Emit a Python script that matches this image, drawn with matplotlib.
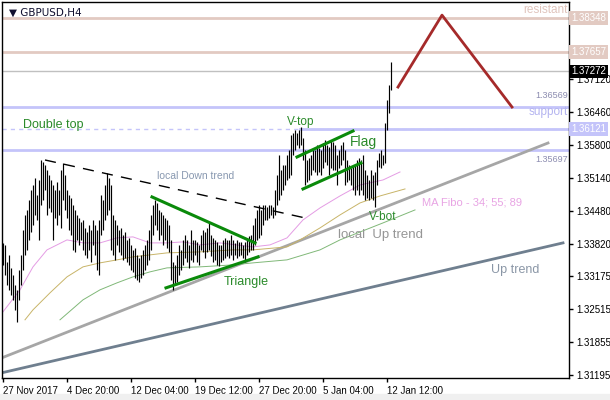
import matplotlib
matplotlib.use('Agg')
import matplotlib.pyplot as plt
from matplotlib.patches import Rectangle

# H4 bars, high / low (price)
highs = [1.3384, 1.3380, 1.3346, 1.3360, 1.3334, 1.3320, 1.3300, 1.3290, 1.3330, 1.3360,
         1.3410, 1.3440, 1.3450, 1.3470, 1.3490, 1.3500, 1.3514, 1.3480, 1.3510, 1.3550,
         1.3546, 1.3540, 1.3530, 1.3520, 1.3510, 1.3500, 1.3490, 1.3506, 1.3490, 1.3530,
         1.3544, 1.3520, 1.3490, 1.3480, 1.3474, 1.3460, 1.3450, 1.3440, 1.3434, 1.3426,
         1.3430, 1.3414, 1.3406, 1.3420, 1.3410, 1.3430, 1.3420, 1.3410, 1.3430, 1.3480,
         1.3470, 1.3500, 1.3524, 1.3514, 1.3500, 1.3440, 1.3430, 1.3420, 1.3410, 1.3414,
         1.3400, 1.3406, 1.3390, 1.3394, 1.3380, 1.3370, 1.3374, 1.3360, 1.3354, 1.3360,
         1.3370, 1.3380, 1.3390, 1.3410, 1.3440, 1.3460, 1.3470, 1.3464, 1.3450, 1.3446,
         1.3440, 1.3434, 1.3430, 1.3420, 1.3390, 1.3346, 1.3340, 1.3360, 1.3380, 1.3370,
         1.3390, 1.3400, 1.3390, 1.3380, 1.3410, 1.3390, 1.3390, 1.3386, 1.3380, 1.3400,
         1.3410, 1.3406, 1.3414, 1.3424, 1.3400, 1.3394, 1.3390, 1.3386, 1.3380, 1.3380,
         1.3390, 1.3394, 1.3390, 1.3390, 1.3400, 1.3390, 1.3384, 1.3390, 1.3386, 1.3386,
         1.3380, 1.3386, 1.3394, 1.3398, 1.3400, 1.3420, 1.3434, 1.3450, 1.3460, 1.3450,
         1.3460, 1.3460, 1.3456, 1.3460, 1.3460, 1.3456, 1.3490, 1.3520, 1.3560, 1.3530,
         1.3540, 1.3540, 1.3560, 1.3570, 1.3600, 1.3604, 1.3610, 1.3604, 1.3610, 1.3616,
         1.3594, 1.3570, 1.3550, 1.3554, 1.3560, 1.3570, 1.3570, 1.3580, 1.3574, 1.3570,
         1.3584, 1.3590, 1.3580, 1.3576, 1.3590, 1.3586, 1.3580, 1.3560, 1.3570, 1.3580,
         1.3586, 1.3570, 1.3550, 1.3540, 1.3534, 1.3540, 1.3540, 1.3550, 1.3554, 1.3550,
         1.3560, 1.3530, 1.3520, 1.3510, 1.3530, 1.3520, 1.3526, 1.3550, 1.3564, 1.3570,
         1.3560, 1.3624, 1.3670, 1.3700, 1.3746]
lows = [1.3340, 1.3320, 1.3300, 1.3290, 1.3280, 1.3270, 1.3250, 1.3226, 1.3270, 1.3300,
        1.3330, 1.3360, 1.3370, 1.3390, 1.3406, 1.3420, 1.3440, 1.3430, 1.3390, 1.3460,
        1.3470, 1.3490, 1.3440, 1.3454, 1.3446, 1.3390, 1.3434, 1.3420, 1.3440, 1.3414,
        1.3470, 1.3450, 1.3434, 1.3410, 1.3400, 1.3370, 1.3366, 1.3390, 1.3380, 1.3390,
        1.3370, 1.3360, 1.3354, 1.3370, 1.3346, 1.3380, 1.3360, 1.3330, 1.3320, 1.3400,
        1.3410, 1.3430, 1.3440, 1.3450, 1.3370, 1.3360, 1.3350, 1.3380, 1.3366, 1.3360,
        1.3350, 1.3354, 1.3346, 1.3340, 1.3330, 1.3326, 1.3314, 1.3310, 1.3306, 1.3314,
        1.3320, 1.3330, 1.3340, 1.3350, 1.3370, 1.3400, 1.3420, 1.3410, 1.3390, 1.3400,
        1.3380, 1.3390, 1.3374, 1.3366, 1.3310, 1.3290, 1.3300, 1.3306, 1.3320, 1.3330,
        1.3340, 1.3354, 1.3346, 1.3334, 1.3350, 1.3346, 1.3360, 1.3346, 1.3340, 1.3370,
        1.3366, 1.3354, 1.3366, 1.3370, 1.3358, 1.3346, 1.3350, 1.3340, 1.3338, 1.3346,
        1.3350, 1.3354, 1.3358, 1.3354, 1.3360, 1.3350, 1.3360, 1.3354, 1.3358, 1.3360,
        1.3354, 1.3346, 1.3360, 1.3366, 1.3370, 1.3370, 1.3380, 1.3390, 1.3394, 1.3400,
        1.3420, 1.3430, 1.3430, 1.3434, 1.3440, 1.3434, 1.3440, 1.3460, 1.3470, 1.3480,
        1.3490, 1.3500, 1.3510, 1.3514, 1.3520, 1.3560, 1.3570, 1.3580, 1.3574, 1.3580,
        1.3550, 1.3500, 1.3506, 1.3510, 1.3520, 1.3530, 1.3526, 1.3520, 1.3526, 1.3520,
        1.3534, 1.3546, 1.3540, 1.3520, 1.3534, 1.3530, 1.3530, 1.3500, 1.3534, 1.3540,
        1.3550, 1.3500, 1.3506, 1.3510, 1.3500, 1.3490, 1.3480, 1.3490, 1.3480, 1.3490,
        1.3480, 1.3470, 1.3474, 1.3470, 1.3474, 1.3470, 1.3456, 1.3500, 1.3536, 1.3534,
        1.3540, 1.3544, 1.3610, 1.3644, 1.3690]

date_labels = ['27 Nov 2017', '4 Dec 20:00', '12 Dec 04:00', '19 Dec 12:00',
               '27 Dec 20:00', '5 Jan 04:00', '12 Jan 12:00']
date_bars = [0, 32, 64, 96, 128, 160, 192]

price_ticks = [1.31195, 1.31855, 1.32515, 1.33175, 1.33820, 1.34480,
               1.35140, 1.35800, 1.36460, 1.37120, 1.37765, 1.38425]
# the two top scale labels sit under the level boxes
hidden_ticks = [1.37765, 1.38425]

# moving averages 34 / 55 / 89 (bar index, price)
ma34_x = [0, 8.5, 15, 22, 32, 40, 48.5, 57, 65, 73.5, 82, 90, 98.5, 108.5, 125, 133.5,
          142, 150, 158.5, 168.5, 178.5, 190, 198.5]
ma34_y = [1.3246, 1.3290, 1.3336, 1.3370, 1.3390, 1.3384, 1.3384, 1.3394, 1.3396, 1.3384,
          1.3384, 1.3386, 1.3380, 1.3384, 1.3376, 1.3380, 1.3394, 1.3430, 1.3454, 1.3478,
          1.3500, 1.3510, 1.3526]
ma55_x = [11, 15, 23.5, 32, 40, 48.5, 57, 65, 82, 98.5, 115, 125, 142, 148.5, 158.5,
          168.5, 178.5, 188.5, 201]
ma55_y = [1.3230, 1.3250, 1.3284, 1.3316, 1.3336, 1.3344, 1.3350, 1.3356, 1.3364, 1.3366,
          1.3370, 1.3370, 1.3376, 1.3390, 1.3414, 1.3440, 1.3464, 1.3478, 1.3492]
ma89_x = [28.5, 40, 48.5, 57, 65, 73.5, 82, 98.5, 115, 125, 142, 158.5, 168.5, 190, 206]
ma89_y = [1.3230, 1.3270, 1.3290, 1.3304, 1.3316, 1.3326, 1.3334, 1.3336, 1.3340, 1.3344,
          1.3350, 1.3370, 1.3390, 1.3424, 1.3450]

# horizontal levels
resist_hi = 1.38348
resist_lo = 1.37657
last_price = 1.37272
support_hi = 1.36569
support_mid = 1.36121
support_lo = 1.35697

# trend lines (bar index, price)
up_local_x, up_local_y = [-0.5, 272.5], [1.3154, 1.3584]
up_main_x, up_main_y = [-0.5, 280], [1.3124, 1.3384]
down_local_x, down_local_y = [21, 151], [1.3550, 1.3434]
tri_top_x, tri_top_y = [74.5, 126], [1.3476, 1.3384]
tri_bot_x, tri_bot_y = [81.5, 127.5], [1.3294, 1.3356]
flag_top_x, flag_top_y = [147, 175], [1.3556, 1.3608]
flag_bot_x, flag_bot_y = [150, 179], [1.3492, 1.3544]
fcst_x, fcst_y = [197.5, 219.5, 254.5], [1.3696, 1.3840, 1.3656]

plt.rcParams['font.family'] = ['Liberation Sans', 'DejaVu Sans']

fig = plt.figure(figsize=(6.1, 4.0), dpi=100)
ax = fig.add_axes([2 / 610, 22 / 400, 567 / 610, 376 / 400])
fig.patches.append(Rectangle((0, 0), 1, 6 / 400, transform=fig.transFigure,
                             color='#f0f0f0', zorder=0))

ax.set_xlim(-0.5, 283)
ax.set_ylim(1.31135, 1.38663)

green_txt = '#2a8a2a'
rosy = '#e2cac2'
lav = '#c4c4fa'

# levels
for lvl in [resist_hi, resist_lo]:
    ax.axhline(lvl, color=rosy, lw=2, zorder=1)
ax.axhline(last_price, color='#c0c0c0', lw=1, zorder=1)
ax.axhline(support_hi, color=lav, lw=2, zorder=1)
ax.axhline(support_lo, color=lav, lw=2, zorder=1)
ax.axhline(support_mid, color=lav, lw=1, ls=(0, (3, 3)), zorder=1)
ax.plot([148.5, 283], [support_mid, support_mid], color=lav, lw=2, zorder=1)

# trend lines
ax.plot(up_main_x, up_main_y, color='#6f7f8f', lw=2, zorder=2)
ax.plot(up_local_x, up_local_y, color='#a6a6a6', lw=2, zorder=2)
ax.plot(down_local_x, down_local_y, color='black', lw=1, ls=(0, (8, 6)), zorder=2)

# moving averages
ax.plot(ma34_x, ma34_y, color='#e49ce4', lw=0.7, zorder=2)
ax.plot(ma55_x, ma55_y, color='#c8b468', lw=0.7, zorder=2)
ax.plot(ma89_x, ma89_y, color='#80b878', lw=0.7, zorder=2)

# bars
idx = list(range(len(highs)))
ax.vlines(idx, lows, highs, color='black', lw=0.85, zorder=3)

# patterns
for xs, ys in [(tri_top_x, tri_top_y), (tri_bot_x, tri_bot_y),
               (flag_top_x, flag_top_y), (flag_bot_x, flag_bot_y)]:
    ax.plot(xs, ys, color='#0a8a0a', lw=2.2, zorder=4)
ax.plot(fcst_x, fcst_y, color='#a52a2a', lw=2, zorder=4)

# labels on chart
ax.text(10, 1.3620, 'Double top', color=green_txt, fontsize=9, va='center')
ax.text(77, 1.3518, 'local Down trend', color='#8898b0', fontsize=7.5, va='center')
ax.text(142, 1.3626, 'V-top', color=green_txt, fontsize=8.5, va='center')
ax.text(173.5, 1.3586, 'Flag', color=green_txt, fontsize=10, va='center')
ax.text(183, 1.3436, 'V-bot', color=green_txt, fontsize=8.5, va='center')
ax.text(110.5, 1.3306, 'Triangle', color=green_txt, fontsize=9, va='center')
ax.text(167.5, 1.3400, 'local  Up trend', color='#969696', fontsize=9.5, va='center')
ax.text(244, 1.3330, 'Up trend', color='#8a96a6', fontsize=9, va='center')
ax.text(209.5, 1.3464, 'MA Fibo - 34; 55; 89', color='#e8a4e4', fontsize=8, va='center')
ax.text(0.998, 1.38500, 'resistant', transform=ax.get_yaxis_transform(),
        color='#e0c4bc', fontsize=8.5, ha='right', va='center')
ax.text(0.998, 1.3670, '1.36569', transform=ax.get_yaxis_transform(),
        color='#8c8cb0', fontsize=6.5, ha='right', va='bottom')
ax.text(0.998, 1.3646, 'support', transform=ax.get_yaxis_transform(),
        color='#b4b4f0', fontsize=8.5, ha='right', va='center')
ax.text(0.998, 1.3559, '1.35697', transform=ax.get_yaxis_transform(),
        color='#8c8cb0', fontsize=6.5, ha='right', va='top')
ax.text(0.012, 0.985, '\u25bc GBPUSD,H4', transform=ax.transAxes, color='#101030',
        fontsize=7.5, va='top', family=['DejaVu Sans'])

# axes
ax.yaxis.tick_right()
ax.set_yticks(price_ticks)
ax.set_yticklabels(['' if p in hidden_ticks else '%.5f' % p for p in price_ticks])
ax.set_xticks(date_bars)
ax.set_xticklabels(date_labels, ha='left')
ax.tick_params(axis='both', labelsize=7, length=3, width=1, color='black',
               direction='out', pad=2)
ax.tick_params(axis='x', pad=3)
for sp in ax.spines.values():
    sp.set_color('black')
    sp.set_linewidth(1)

# price boxes on the right scale
boxes = [(resist_hi, rosy, 'white'), (resist_lo, rosy, 'white'),
         (last_price, 'black', 'white'), (support_mid, lav, 'white')]
for lvl, bg, fg in boxes:
    ax.text(1.004, lvl, '%.5f' % lvl, transform=ax.get_yaxis_transform(),
            color=fg, fontsize=7, ha='left', va='center', zorder=10, clip_on=False,
            bbox=dict(boxstyle='square,pad=0.2', fc=bg, ec='none'))

fig.savefig('out.png', dpi=100)
